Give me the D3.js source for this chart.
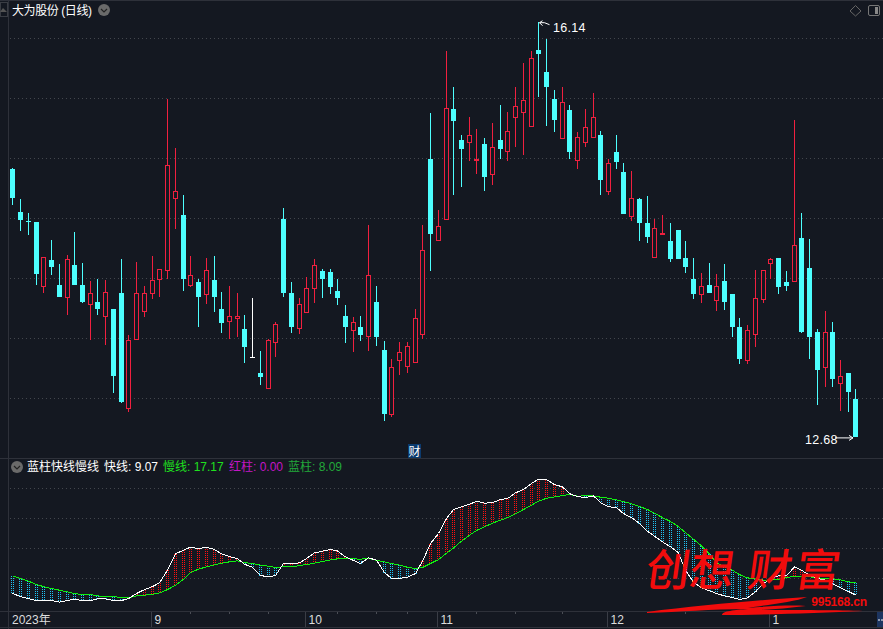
<!DOCTYPE html>
<html><head><meta charset="utf-8">
<script src="https://cdn.jsdelivr.net/npm/d3@7/dist/d3.min.js"></script>
<style>html,body{margin:0;padding:0;background:#141821;overflow:hidden}
text{font-family:"Liberation Sans","Noto Sans CJK SC",sans-serif}</style></head>
<body><svg id="c" width="883" height="629"></svg>
<script>
const opens=[14.91,14.55,14.48,14.47,13.94,14.15,13.95,13.85,14.11,13.95,13.79,13.80,13.69,13.75,13.88,12.92,13.50,13.73,13.88,14.00,14.07,14.67,14.53,13.95,13.97,13.87,13.99,13.75,13.65,13.67,13.58,13.35,13.21,13.09,13.47,14.50,13.88,
13.59,13.72,13.92,14.06,14.05,13.90,13.69,13.57,13.60,13.52,13.80,13.40,12.87,13.32,13.27,13.30,13.54,15.00,14.32,14.50,15.41,15.15,15.14,15.00,15.12,14.87,15.15,15.06,15.35,15.39,15.27,15.90,15.72,15.50,15.17,15.40,14.99,15.14,
15.18,15.20,14.73,15.05,14.89,14.52,14.66,14.46,14.18,14.38,14.31,14.40,14.17,14.00,13.87,13.95,13.82,13.98,13.87,13.60,13.32,13.54,13.83,14.13,14.17,13.97,13.98,14.34,14.09,13.55,13.26,13.55,13.13,13.21,13.00];
const highs=[14.92,14.66,14.55,14.47,14.18,14.32,14.12,14.20,14.39,14.13,13.98,14.00,13.99,13.75,14.16,13.53,14.14,13.94,14.19,14.08,15.50,15.09,14.70,14.19,14.00,14.17,14.19,13.89,13.94,13.88,13.70,13.84,13.40,13.50,13.64,14.59,13.97,
13.84,14.01,14.16,14.08,14.08,14.00,13.78,13.68,13.69,14.45,13.94,13.48,13.33,13.47,13.47,13.75,14.45,15.38,14.57,15.90,15.60,15.20,15.35,15.25,15.17,15.30,15.45,15.39,15.60,15.80,15.90,16.14,16.00,15.57,15.60,15.45,15.22,15.41,
15.55,15.23,15.00,15.20,14.96,14.90,14.67,14.69,14.50,14.53,14.46,14.40,14.31,14.17,14.05,14.13,14.04,14.12,13.87,13.67,13.61,14.07,14.07,14.17,14.17,14.06,15.32,14.55,14.33,13.58,13.73,13.64,13.32,13.21,13.08];
const lows=[14.61,14.40,14.36,13.95,13.88,14.03,13.85,13.70,13.95,13.80,13.49,13.70,13.45,13.05,12.96,12.89,13.50,13.68,13.83,13.85,14.00,14.41,13.90,13.93,13.60,13.79,13.72,13.55,13.50,13.51,13.30,13.35,13.11,13.09,13.35,13.85,13.55,
13.54,13.72,13.80,13.84,13.87,13.78,13.46,13.39,13.48,13.40,13.44,12.81,12.85,13.20,13.21,13.30,13.50,14.06,14.31,14.50,14.70,14.76,14.98,14.87,14.73,14.78,15.00,14.98,15.10,15.03,15.27,15.51,15.27,15.22,15.17,15.00,14.91,15.10,
15.18,14.70,14.70,14.91,14.54,14.48,14.31,14.30,14.18,14.36,14.14,14.16,14.05,13.83,13.80,13.88,13.73,13.74,13.51,13.29,13.29,13.43,13.80,14.00,13.87,13.90,13.98,13.55,13.33,12.95,13.10,13.10,12.90,12.89,12.68];
const closes=[14.67,14.49,14.47,14.04,14.18,14.10,13.85,14.16,13.95,13.80,13.88,13.75,13.89,13.19,12.97,13.49,13.88,13.88,13.99,14.08,14.95,14.73,14.00,14.03,13.85,14.07,13.85,13.63,13.69,13.69,13.43,13.35,13.18,13.49,13.62,13.88,13.60,
13.79,13.92,14.11,14.00,13.93,13.84,13.60,13.64,13.53,14.03,13.51,12.87,13.26,13.39,13.44,13.67,14.24,14.37,14.44,15.42,15.31,15.08,15.20,15.00,14.85,15.10,15.08,15.23,15.44,15.49,15.84,15.87,15.60,15.32,15.47,15.05,15.18,15.26,
15.35,14.82,14.96,14.97,14.54,14.67,14.46,14.35,14.42,14.38,14.16,14.16,14.10,13.87,13.94,13.88,13.94,13.80,13.60,13.33,13.57,13.84,14.07,14.16,13.93,13.94,14.28,13.55,13.51,13.24,13.55,13.16,13.19,13.05,12.68];
const neutralDays=[31];
const priceGrid=[16,15.5,15,14.5,14,13.5,13];
const fastLine=[10.0,8.0,6.6,5.3,5.3,5.3,4.2,5.3,6.2,5.3,5.3,6.4,6.4,5.3,5.3,6.6,10.0,12.6,14.6,17.1,25.5,36.4,38.9,40.9,39.8,40.9,39.3,36.4,34.6,33.3,29.5,27.5,22.0,21.1,22.0,30.0,30.0,
30.4,33.3,37.1,38.2,39.3,38.4,34.4,32.0,30.0,33.8,32.2,24.0,20.0,20.0,20.9,23.3,31.5,43.3,50.0,60.0,66.0,67.8,69.5,71.5,70.2,70.6,72.6,73.3,77.1,79.3,83.3,86.2,86.0,82.6,81.1,76.6,74.6,74.0,
75.1,70.6,67.8,67.3,63.3,60.6,56.6,51.5,48.2,44.4,41.1,37.1,25.5,17.5,13.8,11.8,10.0,8.4,7.3,6.0,7.1,11.1,16.6,20.0,21.8,21.8,27.8,25.5,22.2,20.0,18.9,16.6,13.8,11.3,9.07];
const slowLine=[21.8,20.0,18.2,16.0,14.6,13.3,12.2,11.1,10.0,9.3,9.3,8.4,8.0,7.8,7.5,7.1,8.4,8.9,9.5,10.4,12.6,15.5,19.5,24.0,26.2,27.8,29.1,30.2,31.1,31.8,30.6,30.0,28.9,28.2,27.3,27.8,27.8,
28.6,29.3,30.2,31.3,32.4,33.1,33.3,33.1,32.9,33.3,32.2,31.1,30.0,28.9,27.5,26.6,27.3,30.0,32.6,36.9,40.4,44.9,48.9,52.0,54.4,56.9,58.9,60.6,63.1,66.0,68.9,71.5,73.5,74.4,75.3,76.0,74.9,75.1,
75.1,74.2,73.5,72.4,71.3,69.8,68.0,66.0,63.5,60.6,58.0,54.6,50.6,46.2,41.8,36.2,30.6,27.8,25.5,22.6,20.4,19.8,18.9,18.9,19.5,20.6,21.5,21.5,21.1,20.4,20.2,19.8,19.1,17.8,17.17];
const indicatorGrid=[80,60,40,20];
const monthIndex=[18,38,55,77,98];
const monthLabels=["9","10","11","12","1"];
const minorTicks=[23,28,33,42,47,51,60,65,71,87];
const watermarkChars=["创","想","财","富"];

const BG="#141821",LINE="#2e313a",GRID="#43464d",RED="#f0203f",CYAN="#4dffff",BLUE="#1fc4f5";
const svg=d3.select("#c");
svg.append("rect").attr("width",883).attr("height",629).attr("fill",BG);
const n=opens.length;
const xS=d3.scaleLinear().domain([0,109]).range([11.9,855]);
const col=i=>Math.ceil(xS(i));
const yP=d3.scaleLinear().domain([13,16]).range([398.5,38.5]);
const yI=d3.scaleLinear().domain([20,80]).range([578.5,488.5]);

// frame
const frame=svg.append("g").attr("stroke",LINE).attr("fill","none").attr("shape-rendering","crispEdges");
[[0,0.5,883,0.5],[8.5,0,8.5,629],[0,458.5,883,458.5],[0,611.5,883,611.5],[0,627.5,883,627.5]].forEach(l=>
  frame.append("line").attr("x1",l[0]).attr("y1",l[1]).attr("x2",l[2]).attr("y2",l[3]));

// grid
const grid=svg.append("g").attr("stroke",GRID).attr("stroke-dasharray","1,3").attr("shape-rendering","crispEdges");
priceGrid.forEach(p=>grid.append("line").attr("x1",10).attr("x2",883).attr("y1",yP(p)).attr("y2",yP(p)));
indicatorGrid.forEach(p=>grid.append("line").attr("x1",10).attr("x2",883).attr("y1",yI(p)).attr("y2",yI(p)));

// candles
const cg=svg.append("g").attr("shape-rendering","crispEdges");
d3.range(n).forEach(i=>{
  const o=opens[i],c=closes[i],h=highs[i],l=lows[i],cx=col(i)+0.5;
  const neutral=neutralDays.includes(i), up=c>=o && !neutral;
  const color=neutral?"#ffffff":(up?RED:CYAN);
  const top=Math.round(yP(Math.max(o,c))),bot=Math.round(yP(Math.min(o,c)));
  if(up){
    cg.append("line").attr("x1",cx).attr("x2",cx).attr("y1",yP(h)).attr("y2",top).attr("stroke",color);
    cg.append("line").attr("x1",cx).attr("x2",cx).attr("y1",bot).attr("y2",yP(l)).attr("stroke",color);
    cg.append("rect").attr("x",cx-2).attr("y",top+0.5).attr("width",4).attr("height",Math.max(bot-top,1)).attr("fill",BG).attr("stroke",color);
  }else{
    cg.append("line").attr("x1",cx).attr("x2",cx).attr("y1",yP(h)).attr("y2",yP(l)).attr("stroke",color);
    if(bot-top<=2) cg.append("line").attr("x1",cx-2.5).attr("x2",cx+2.5).attr("y1",top+0.5).attr("y2",top+0.5).attr("stroke",color);
    else cg.append("rect").attr("x",cx-2.5).attr("y",top).attr("width",5).attr("height",bot-top).attr("fill",color);
  }
});

// price annotations
const ann=svg.append("g").attr("stroke","#fff").attr("fill","none").attr("stroke-width",1);
const xh=col(highs.indexOf(d3.max(highs)))+0.5, yh=yP(d3.max(highs));
ann.append("path").attr("d",`M${xh+11},${yh+3}L${xh+6},${yh+1}L${xh+1},${yh+1}M${xh+1},${yh+1}L${xh+4},${yh-1}M${xh+1},${yh+1}L${xh+4},${yh+4}`);
const xl=col(n-1), yl=yP(closes[n-1])+1;
ann.append("path").attr("d",`M${xl-20},${yl}L${xl-2},${yl}M${xl-6},${yl-2.5}L${xl-2},${yl}L${xl-6},${yl+2.5}`);
const thin={"font-weight":300};
svg.append("text").attr("x",553).attr("y",31.5).attr("fill","#fff").attr("font-size",12.5).attr("letter-spacing",0.3).text("16.14");
svg.append("text").attr("x",805).attr("y",444).attr("fill","#fff").attr("font-size",12.5).attr("letter-spacing",0.3).text("12.68");

// header
svg.append("text").attr("x",12).attr("y",14.5).attr("fill","#fff").attr("font-size",12).attr("textLength",80).attr("lengthAdjust","spacing").text("大为股份 (日线)");
function chevron(cx,cy){
  svg.append("circle").attr("cx",cx).attr("cy",cy).attr("r",6).attr("fill","#6a6a6a");
  svg.append("path").attr("d",`M${cx-3},${cy-1}L${cx},${cy+2}L${cx+3},${cy-1}`).attr("stroke","#222").attr("stroke-width",1.2).attr("fill","none");
}
chevron(104,10);
chevron(17,467);
svg.append("path").attr("d","M855.5,5.5L861,11L855.5,16L850,11Z").attr("fill","none").attr("stroke","#666").attr("stroke-width",1);
svg.append("rect").attr("x",868.5).attr("y",5.5).attr("width",11).attr("height",10).attr("rx",1.5).attr("fill","none").attr("stroke","#777");
svg.append("rect").attr("x",875).attr("y",7).attr("width",3).attr("height",7).attr("fill","#888");
svg.append("rect").attr("x",0.5).attr("y",2.5).attr("width",7).attr("height",14).attr("fill","none").attr("stroke","#3a3d44");
svg.append("path").attr("d","M0,12L3,8L7,12Z").attr("fill","#555");

// badge
svg.append("rect").attr("x",408).attr("y",444).attr("width",13).attr("height",14).attr("fill","#0b3a6e");
svg.append("text").attr("x",414.5).attr("y",455.5).attr("text-anchor","middle").attr("fill","#fff").attr("font-size",12).text("财");

// legend
[["蓝柱快线慢线",27,"#fff"],["快线: "+fastLine[n-1].toFixed(2),104,"#fff"],["慢线: "+slowLine[n-1].toFixed(2),163,"#1fe01f"],["红柱: 0.00",229,"#c415c4"],["蓝柱: 8.09",288,"#22a83a"]]
 .forEach(t=>svg.append("text").attr("x",t[1]).attr("y",471).attr("fill",t[2]).attr("font-size",12).text(t[0]));

// indicator columns
const bars=svg.append("g").attr("stroke-dasharray","1,1").attr("shape-rendering","crispEdges").attr("fill","none");
d3.range(n).forEach(i=>{
  const a=yI(fastLine[i]),b=yI(slowLine[i]),c=fastLine[i]>slowLine[i]?"#ff1010":BLUE;
  [-1,1].forEach(dx=>bars.append("line").attr("x1",col(i)+0.5+dx).attr("x2",col(i)+0.5+dx)
    .attr("y1",Math.round(Math.min(a,b))).attr("y2",Math.round(Math.max(a,b))).attr("stroke",c));
});
const mkLine=arr=>d3.line().x((d,i)=>col(i)+0.5).y(d=>yI(d))(arr);
svg.append("path").attr("d",mkLine(slowLine)).attr("fill","none").attr("stroke","#10f010").attr("stroke-width",1).attr("shape-rendering","crispEdges");
svg.append("path").attr("d",mkLine(fastLine)).attr("fill","none").attr("stroke","#fff").attr("stroke-width",1).attr("shape-rendering","crispEdges");

// x axis
const xg=svg.append("g").attr("shape-rendering","crispEdges");
monthIndex.forEach((m,i)=>{
  const x=col(m)-0.5;
  xg.append("line").attr("x1",x).attr("x2",x).attr("y1",612).attr("y2",627).attr("stroke","#3a3d46");
  svg.append("text").attr("x",x+3).attr("y",624).attr("fill","#ddd").attr("font-size",12).text(monthLabels[i]);
});
minorTicks.forEach(m=>xg.append("line").attr("x1",col(m)+0.5).attr("x2",col(m)+0.5).attr("y1",612).attr("y2",614).attr("stroke","#4a4d55"));
svg.append("text").attr("x",12).attr("y",624).attr("fill","#ddd").attr("font-size",12).text("2023年");
svg.append("rect").attr("x",877).attr("y",612).attr("width",6).attr("height",15).attr("fill","#1d3560");
svg.append("path").attr("d","M878,620H883").attr("stroke","#fff").attr("stroke-dasharray","2,1");

// watermark
const wm=svg.append("g").attr("fill","#f20c0c");
const wmX=[644,688,746,794];
watermarkChars.forEach((ch,i)=>{
  wm.append("text").attr("transform",`translate(${wmX[i]},586) skewX(-8)`)
    .attr("font-size",44).attr("font-weight",500).attr("style",'font-family:"Noto Sans CJK SC"').text(ch);
});
wm.append("path").attr("d","M647,612C700,605 760,600 807,597C795,602 765,605 748,608C770,606 790,605 806,606C790,608 775,609 762,610C800,610 840,610 863,611C820,613 760,615 722,615C722,611 735,610 748,609C710,609 680,612 647,613Z");
wm.append("text").attr("x",839).attr("y",605.5).attr("text-anchor","middle").attr("font-size",12).attr("font-weight",700).attr("letter-spacing",-0.2).text("995168.cn");
</script></body></html>
